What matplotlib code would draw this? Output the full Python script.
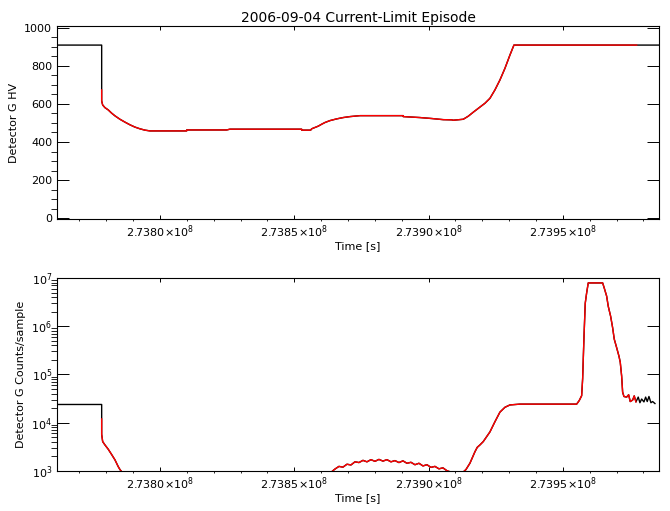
import numpy as np
import matplotlib
matplotlib.use('Agg')
import matplotlib.pyplot as plt
from matplotlib.ticker import MultipleLocator, FuncFormatter, LogLocator, NullFormatter

# time axis: seconds relative to T0
T0 = 2.738e8

# Detector G HV
hv_dt = [-38350, -21700, -21700, -21700, -21330, -20480, -19250, -17980, -16750,
         -14890, -13030, -11170, -9310, -7450, -5590, -3720, 9940, 9945, 24830,
         26060, 52750, 52760, 56110, 56480, 57710, 58940, 60200, 61430, 63290,
         65790, 68240, 70740, 74460, 90580, 90590, 96800, 101150, 105470, 108600,
         109200, 112920, 114780, 116640, 119140, 121000, 122860, 124720, 126580,
         128440, 130310, 131790, 177475, 185800]
hv_val = [908, 908, 673, 615, 594, 580, 568, 551, 537, 519, 504, 490, 478, 469,
          462, 458, 458, 463, 463, 467, 467, 462, 462, 469, 476, 483, 493, 502,
          512, 521, 528, 533, 538, 538, 533, 528, 523, 517, 516, 514, 519, 535,
          556, 583, 603, 629, 673, 725, 786, 856, 908, 908, 908]
hv_red = slice(2, 52)   # episode part, drawn in red

# Detector G counts/sample
ct_dt = [-38350, -21700, -21700, -21700, -21330, -20480, -19250, -17980, -16750,
         -15530, -14890, -13030, -11170, 63290,
         65150, 66640, 68130, 69620, 71110, 72600, 74090, 75580, 77070, 78560,
         80050, 81530, 83020, 84510, 86000, 87490, 88980, 90470, 91960, 93450,
         94940, 96430, 97920, 99400, 100890, 102380, 103870, 105360, 106850,
         108340, 112440, 113920, 115410, 117280, 118130, 119140, 120370, 122860,
         124720, 126580, 128440, 130310, 134030, 155140, 156100, 157000, 157370,
         157860, 158340, 158860, 159460, 164820, 165410, 166310, 166900, 167800,
         168540, 169140, 170030, 170890, 171370, 171890, 172260, 172750, 173750,
         174500, 175090, 175990, 176580, 177215,
         178070, 178700, 179340, 180190, 180830, 181420, 182060, 182800, 183430,
         184290]
ct_val = [23900, 23900, 12000, 5750, 4070, 3470, 2820, 2190, 1700, 1230, 1070,
          800, 650, 900,
          1096, 1245, 1202, 1380, 1334, 1549, 1496, 1660, 1549, 1718, 1585, 1738,
          1603, 1718, 1549, 1641, 1496, 1622, 1445, 1514, 1349, 1445, 1274, 1349,
          1189, 1245, 1109, 1161, 1012, 950, 900, 1070, 1450, 2510, 3090, 3470,
          4070, 6460, 10500, 16600, 20900, 23400, 24300, 24300, 28800, 36300,
          81300, 575000, 3.0e6, 4.9e6, 7.9e6, 7.9e6, 6.2e6, 4.2e6, 2.6e6, 1.6e6,
          9.3e5, 5.4e5, 3.6e5, 2.4e5, 1.8e5, 9.3e4, 4.3e4, 3.5e4, 3.4e4, 3.8e4,
          27500, 29500, 36000, 27000,
          34000, 26000, 31000, 27000, 34000, 27500, 35000, 26000, 27500, 25000]
ct_red = slice(2, 84)

hv_t = T0 + np.array(hv_dt, dtype=float)
ct_t = T0 + np.array(ct_dt, dtype=float)
hv_val = np.array(hv_val, dtype=float)
ct_val = np.array(ct_val, dtype=float)

xlim = (T0 - 38350, T0 + 185780)
FS = 8


def xfmt(v, pos):
    return f'{v / 1e8:.4f}' + r'$\times$10$^{8}$'


def style(ax):
    ax.set_xlim(*xlim)
    ax.xaxis.set_major_locator(MultipleLocator(50000))
    ax.xaxis.set_minor_locator(MultipleLocator(10000))
    ax.xaxis.set_major_formatter(FuncFormatter(xfmt))
    ax.tick_params(direction='in', top=True, right=True, labelsize=FS, width=0.7)
    ax.tick_params(axis='x', which='major', length=3.0, pad=3)
    ax.tick_params(axis='x', which='minor', length=1.5)
    ax.tick_params(axis='y', which='major', length=8.6)
    ax.tick_params(axis='y', which='minor', length=4.3)
    for s in ax.spines.values():
        s.set_linewidth(0.8)
    ax.set_xlabel('Time [s]', fontsize=FS, labelpad=1)


fig = plt.figure(figsize=(6.7, 5.11), dpi=100)
ax1 = fig.add_axes([0.085, 0.5714, 0.8985, 0.3777])
ax2 = fig.add_axes([0.085, 0.0783, 0.8985, 0.3777])

ax1.plot(hv_t, hv_val, color='black', lw=1.0)
ax1.plot(hv_t[hv_red], hv_val[hv_red], color='red', lw=1.0)
ax1.set_ylim(-4, 1008)
ax1.yaxis.set_major_locator(MultipleLocator(200))
ax1.yaxis.set_minor_locator(MultipleLocator(50))
ax1.set_ylabel('Detector G HV', fontsize=FS)
ax1.set_title('2006-09-04 Current-Limit Episode', fontsize=10, pad=3)
style(ax1)

ax2.plot(ct_t, ct_val, color='black', lw=1.0)
ax2.plot(ct_t[ct_red], ct_val[ct_red], color='red', lw=1.0)
ax2.set_yscale('log')
ax2.set_ylim(1e3, 1e7)
ax2.yaxis.set_major_locator(LogLocator(base=10))
ax2.yaxis.set_minor_locator(LogLocator(base=10, subs=np.arange(2, 10)))
ax2.yaxis.set_minor_formatter(NullFormatter())
ax2.set_ylabel('Detector G Counts/sample', fontsize=FS)
style(ax2)

fig.savefig('out.png', dpi=100)
